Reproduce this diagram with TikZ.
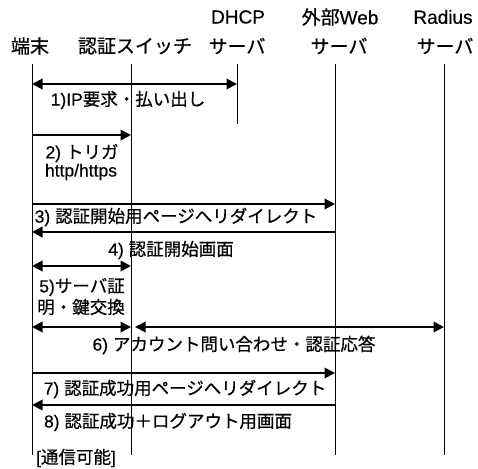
\documentclass[tikz,border=0pt]{standalone}
\usepackage{fontspec}
\setmainfont[FakeBold=0.5]{Liberation Sans}
\newfontfamily\jpfont[FakeBold=0.6]{Noto Sans CJK JP}
\newcommand\J[1]{{\jpfont #1}}
\usetikzlibrary{arrows.meta}
\begin{document}
\begin{tikzpicture}[x=1pt,y=-1pt,
  hd/.style={inner sep=0pt,anchor=center,font=\fontsize{19}{19}\selectfont},
  lb/.style={inner sep=0pt,anchor=center,font=\fontsize{17.5}{17.5}\selectfont},
  life/.style={line width=1pt},
  msg/.style={line width=1.9pt,-{Triangle[length=10.5pt,width=10.5pt]}},
  dmsg/.style={line width=1.9pt,{Triangle[length=10.5pt,width=10.5pt]}-{Triangle[length=10.5pt,width=10.5pt]}}]
\useasboundingbox (0,0) rectangle (478,468);
% headings
\node[hd] (hA) at (30,46) {\J{端末}};
\node[hd] (hB) at (135,46) {\J{認証スイッチ}};
\node[hd] (hC1) at (238,17) {DHCP};
\node[hd] (hC) at (237,46) {\J{サーバ}};
\node[hd] (hD1) at (340,17) {\J{外部}Web};
\node[hd] (hD) at (339,46) {\J{サーバ}};
\node[hd] (hE1) at (443,17) {Radius};
\node[hd] (hE) at (445,46) {\J{サーバ}};
% lifelines
\coordinate (A0) at (32,64);  \coordinate (A1) at (32,455);
\coordinate (B0) at (131,64); \coordinate (B1) at (131,455);
\coordinate (C0) at (237,64); \coordinate (C1) at (237,124);
\coordinate (D0) at (335,64); \coordinate (D1) at (335,455);
\coordinate (E0) at (444,64); \coordinate (E1) at (444,455);
\draw[life] (A0) -- (A1);
\draw[life] (B0) -- (B1);
\draw[life] (C0) -- (C1);
\draw[life] (D0) -- (D1);
\draw[life] (E0) -- (E1);
% message end points
\coordinate (m1a) at (32,84);  \coordinate (m1b) at (237,84);
\coordinate (m2a) at (32,135); \coordinate (m2b) at (131,135);
\coordinate (m3a) at (32,204); \coordinate (m3b) at (335,204);
\coordinate (m4a) at (335,232); \coordinate (m4b) at (32,232);
\coordinate (m5a) at (32,266); \coordinate (m5b) at (131,266);
\coordinate (m6a) at (32,327); \coordinate (m6b) at (131,327);
\coordinate (m6c) at (135,327); \coordinate (m6d) at (444,327);
\coordinate (m7a) at (32,373); \coordinate (m7b) at (335,373);
\coordinate (m8a) at (335,405); \coordinate (m8b) at (32,405);
% messages
\draw[dmsg] (m1a) -- (m1b);
\draw[msg] (m2a) -- (m2b);
\draw[msg] (m3a) -- (m3b);
\draw[msg] (m4a) -- (m4b);
\draw[dmsg] (m5a) -- (m5b);
\draw[dmsg] (m6a) -- (m6b);
\draw[dmsg] (m6c) -- (m6d);
\draw[msg] (m7a) -- (m7b);
\draw[msg] (m8a) -- (m8b);
% labels
\node[lb] (l1) at (128,100) {1)IP\J{要求・払い出し}};
\node[lb] (l2a) at (82,153) {2) \J{トリガ}};
\node[lb] (l2b) at (81,172) {http/https};
\node[lb] (l3) at (176,217) {3) \J{認証開始用ページへリダイレクト}};
\node[lb] (l4) at (171,250) {4) \J{認証開始画面}};
\node[lb] (l5a) at (82,287) {5)\J{サーバ証}};
\node[lb] (l5b) at (81,307) {\J{明・鍵交換}};
\node[lb] (l6) at (234,345) {6) \J{アカウント問い合わせ・認証応答}};
\node[lb] (l7) at (185,389) {7) \J{認証成功用ページへリダイレクト}};
\node[lb] (l8) at (168,422) {8) \J{認証成功＋ログアウト用画面}};
\node[lb] (l9) at (76,458) {[\J{通信可能}]};
\end{tikzpicture}
\end{document}
